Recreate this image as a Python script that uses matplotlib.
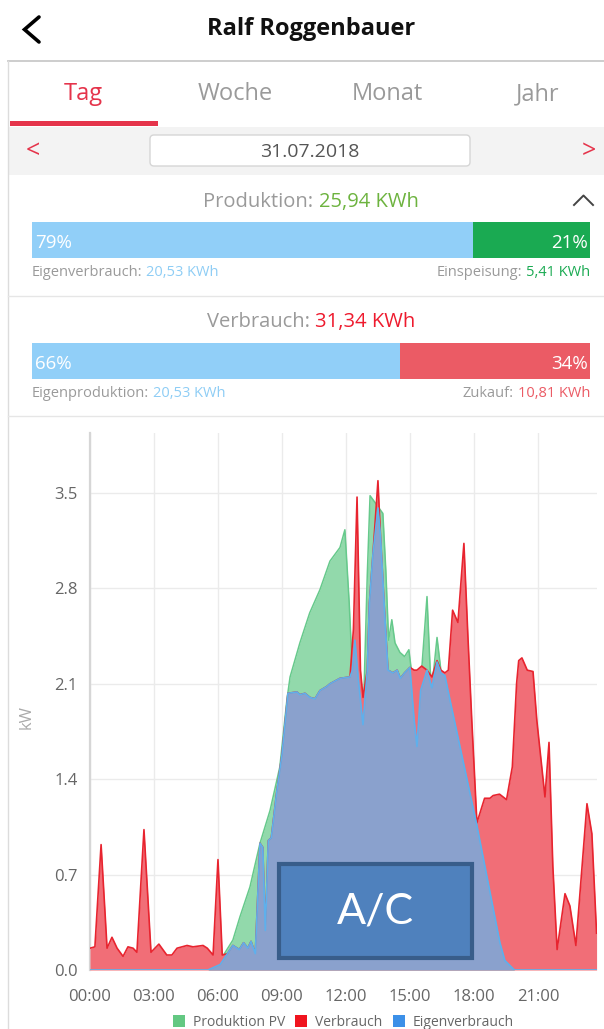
import matplotlib
matplotlib.use("Agg")
import matplotlib.pyplot as plt
from matplotlib.patches import Rectangle, FancyBboxPatch

plt.rcParams['font.family'] = ['Open Sans', 'DejaVu Sans']

# ---------------- data ----------------
user_name = "Ralf Roggenbauer"
tabs = ["Tag", "Woche", "Monat", "Jahr"]
date_label = "31.07.2018"

prod_label = "Produktion:"
prod_total = "25,94 KWh"
prod_split = [79, 21]
prod_left_label, prod_left_value = "Eigenverbrauch:", "20,53 KWh"
prod_right_label, prod_right_value = "Einspeisung:", "5,41 KWh"

verb_label = "Verbrauch:"
verb_total = "31,34 KWh"
verb_split = [66, 34]
verb_left_label, verb_left_value = "Eigenproduktion:", "20,53 KWh"
verb_right_label, verb_right_value = "Zukauf:", "10,81 KWh"

# Produktion PV (kW) over hours of day
pv_t = [0.0, 5.53, 6.1, 6.7, 7.03, 7.5, 7.97, 8.44, 8.9, 9.23, 9.38, 9.84, 10.3,
        10.78, 11.25, 11.72, 11.95, 12.15, 12.3, 12.42, 12.6, 12.8, 13.0, 13.13,
        13.27, 13.5, 13.73, 13.87, 14.0, 14.15, 14.3, 14.53, 14.75, 14.95, 15.05,
        15.2, 15.33, 15.55, 15.8, 15.95, 16.03, 16.27, 16.45, 16.64, 16.88, 18.14,
        19.22, 19.45, 19.9, 23.75]
pv_kw = [0.0, 0.0, 0.07, 0.22, 0.39, 0.61, 0.93, 1.17, 1.49, 1.98, 2.15, 2.40, 2.62,
         2.79, 3.0, 3.10, 3.23, 2.7, 2.2, 2.42, 2.1, 1.80, 2.9, 3.48,
         3.45, 3.40, 3.35, 2.93, 2.42, 2.57, 2.4, 2.33, 2.3, 2.35, 2.22,
         1.83, 1.64, 2.2, 2.74, 2.2, 2.07, 2.44, 2.2, 2.16, 1.98, 1.06,
         0.2, 0.07, 0.0, 0.0]

# Verbrauch (kW)
cons_t = [0.0, 0.23, 0.52, 0.8, 1.03, 1.27, 1.55, 1.78, 2.02, 2.2, 2.53, 2.86, 3.23,
          3.6, 3.84, 4.08, 4.55, 4.83, 5.3, 5.5, 5.77, 6.0, 6.2, 6.45, 6.7, 7.0,
          7.2, 7.4, 7.55, 7.75, 7.97, 8.1, 8.22, 8.36, 8.5, 8.75, 9.0, 9.28, 9.7,
          9.84, 10.08, 10.31, 10.55, 10.78, 11.1, 11.25, 11.72, 12.19, 12.35, 12.52,
          12.68, 12.8, 13.0, 13.1, 13.27, 13.5, 13.62, 13.83, 13.97, 14.2, 14.4,
          14.55, 14.75, 15.0, 15.2, 15.33, 15.55, 15.8, 16.03, 16.27, 16.45, 16.64,
          16.8, 17.0, 17.25, 17.53, 17.72, 17.9, 18.14, 18.5, 18.75, 18.9, 19.2,
          19.53, 19.8, 20.0, 20.1, 20.25, 20.5, 20.77, 20.95, 21.33, 21.52, 21.7,
          21.9, 22.27, 22.5, 22.78, 23.3, 23.53, 23.75]
cons_kw = [0.16, 0.17, 0.92, 0.16, 0.24, 0.16, 0.10, 0.17, 0.16, 0.13, 1.03, 0.13, 0.19,
           0.11, 0.11, 0.16, 0.18, 0.17, 0.18, 0.16, 0.11, 0.81, 0.11, 0.12, 0.18, 0.15,
           0.2, 0.16, 0.21, 0.12, 0.93, 0.9, 0.29, 0.95, 0.97, 1.3, 1.58, 2.03, 2.04,
           2.02, 2.03, 2.0, 1.99, 2.05, 2.08, 2.1, 2.14, 2.15, 2.5, 3.47,
           2.2, 2.0, 2.2, 2.69, 3.06, 3.59, 3.18, 2.57, 2.2, 2.18, 2.2,
           2.14, 2.18, 2.22, 2.2, 2.2, 2.23, 2.2, 2.15, 2.27, 2.2, 2.18,
           2.2, 2.64, 2.55, 3.13, 2.44, 1.83, 1.08, 1.26, 1.26, 1.28, 1.29,
           1.25, 1.49, 2.1, 2.27, 2.29, 2.2, 2.19, 1.83, 1.27, 1.67, 0.76,
           0.15, 0.56, 0.47, 0.18, 1.22, 1.0, 0.27]

# Eigenverbrauch (kW)
eig_t = [0.0, 5.53, 6.1, 6.7, 7.0, 7.2, 7.4, 7.55, 7.75, 7.97, 8.1, 8.22, 8.36, 8.5,
         8.75, 9.0, 9.28, 9.7, 9.84, 10.08, 10.31, 10.55, 10.78, 11.1, 11.25, 11.72,
         12.19, 12.3, 12.42, 12.6, 12.8, 13.0, 13.1, 13.27, 13.5, 13.62, 13.83, 13.97,
         14.2, 14.4, 14.55, 14.75, 15.0, 15.2, 15.33, 15.5, 15.8, 16.03, 16.27, 16.45,
         16.64, 16.88, 18.14, 19.22, 19.45, 19.9, 23.75]
eig_kw = [0.0, 0.0, 0.04, 0.18, 0.15, 0.2, 0.16, 0.21, 0.12, 0.93, 0.9, 0.29, 0.95, 0.97,
          1.3, 1.58, 2.03, 2.04, 2.02, 2.03, 2.0, 1.99, 2.05, 2.08, 2.1, 2.14,
          2.15, 2.2, 2.42, 2.1, 1.80, 2.2, 2.69, 3.06, 3.39, 3.18, 2.57, 2.2,
          2.18, 2.2, 2.14, 2.18, 2.22, 1.83, 1.64, 2.05, 2.2, 2.07, 2.26, 2.18,
          2.16, 1.98, 1.06, 0.2, 0.07, 0.0, 0.0]

y_ticks = [0.0, 0.7, 1.4, 2.1, 2.8, 3.5]
x_ticks = [0, 3, 6, 9, 12, 15, 18, 21]
x_tick_labels = ["00:00", "03:00", "06:00", "09:00", "12:00", "15:00", "18:00", "21:00"]
y_label = "kW"
legend_labels = ["Produktion PV", "Verbrauch", "Eigenverbrauch"]
annotation_text = "A/C"

# ---------------- style ----------------
W, H = 604, 1029
GRAY_TXT = '#9a9a9a'
C_BAR_BLUE = '#91cff8'
C_BAR_GREEN = '#1aaa52'
C_BAR_RED = '#eb5b65'
C_RED = '#e5344b'
green_fill, green_line = '#92d9ab', '#66c98b'
red_fill, red_line = '#f16e77', '#e8242f'
blue_fill, blue_line = '#8aa1cd', '#5eb0ec'
legend_colors = ['#63c882', '#f0141e', '#3c90e8']

fig = plt.figure(figsize=(W / 100, H / 100), dpi=100, facecolor='white')

bg = fig.add_axes([0, 0, 1, 1], zorder=0)
bg.set_xlim(0, W)
bg.set_ylim(H, 0)
bg.axis('off')

ov = fig.add_axes([0, 0, 1, 1], zorder=10)
ov.set_xlim(0, W)
ov.set_ylim(H, 0)
ov.axis('off')
ov.patch.set_alpha(0)

renderer = fig.canvas.get_renderer()


def seq_text(ax, x, y, pieces, size, ha='left', weight='normal', gap=True):
    ts, ws = [], []
    for s, c in pieces:
        t = ax.text(0, y, s, color=c, fontsize=size, ha='left', va='baseline',
                    fontweight=weight)
        ws.append(t.get_window_extent(renderer).width)
        ts.append(t)
    g = 0.26 * size * 100 / 72 if gap else 0
    total = sum(ws) + g * (len(ws) - 1)
    if ha == 'center':
        x0 = x - total / 2
    elif ha == 'right':
        x0 = x - total
    else:
        x0 = x
    for t, w in zip(ts, ws):
        t.set_x(x0)
        x0 += w + g


# ---- header ----
bg.plot([39, 24.5, 39], [17, 29.5, 42], color='black', lw=2.6,
        solid_capstyle='round', solid_joinstyle='miter')
bg.text(311, 35, user_name, ha='center', va='baseline', fontsize=17,
        fontweight='bold', color='#111111')
bg.plot([8, W], [61, 61], color='#c9c9c9', lw=1.3)
bg.plot([8, 8], [61, H], color='#dcdcdc', lw=1.0)

# ---- tabs ----
tab_x = [83, 235, 387, 538]
for i, (tx, lab) in enumerate(zip(tab_x, tabs)):
    bg.text(tx, 100, lab, ha='center', va='baseline', fontsize=17,
            color=C_RED if i == 0 else GRAY_TXT)
bg.add_patch(Rectangle((10, 121), 148, 5, facecolor=C_RED, edgecolor='none'))

# ---- date row ----
bg.add_patch(Rectangle((9, 127), W - 9, 48, facecolor='#f3f3f3', edgecolor='none'))
bg.add_patch(FancyBboxPatch((150, 135), 320, 31, boxstyle='round,pad=0,rounding_size=4',
                            facecolor='white', edgecolor='#d6d6d6', lw=1.0))
bg.text(310, 157, date_label, ha='center', va='baseline', fontsize=14, color='#555555')
bg.text(33, 152, "<", ha='center', va='center', fontsize=18, color=C_RED)
bg.text(589, 152, ">", ha='center', va='center', fontsize=18, color=C_RED)

# ---- Produktion ----
seq_text(bg, 311, 207, [(prod_label, GRAY_TXT), (prod_total, '#6db33f')], 14.5, ha='center')
bg.plot([574, 583.5, 593], [205, 195.5, 205], color='#444444', lw=1.4)

b1 = fig.add_axes([32 / W, 1 - 258 / H, 558 / W, 36 / H], zorder=1)
b1.barh(0, prod_split[0], left=0, height=1, color=C_BAR_BLUE)
b1.barh(0, prod_split[1], left=prod_split[0], height=1, color=C_BAR_GREEN)
b1.set_xlim(0, 100)
b1.set_ylim(-0.5, 0.5)
b1.axis('off')
ov.text(35, 248, f"{prod_split[0]}%", ha='left', va='baseline', fontsize=13.5, color='white')
ov.text(588, 248, f"{prod_split[1]}%", ha='right', va='baseline', fontsize=13.5, color='white')
seq_text(bg, 32, 276, [(prod_left_label, GRAY_TXT), (prod_left_value, '#8ecdf5')], 10.5)
seq_text(bg, 590, 276, [(prod_right_label, GRAY_TXT), (prod_right_value, C_BAR_GREEN)], 10.5, ha='right')
bg.plot([8, W], [296, 296], color='#e6e6e6', lw=1.0)

# ---- Verbrauch ----
seq_text(bg, 311, 327, [(verb_label, GRAY_TXT), (verb_total, '#ee1b2e')], 14.5, ha='center')
b2 = fig.add_axes([32 / W, 1 - 379 / H, 558 / W, 36 / H], zorder=1)
b2.barh(0, verb_split[0], left=0, height=1, color=C_BAR_BLUE)
b2.barh(0, verb_split[1], left=verb_split[0], height=1, color=C_BAR_RED)
b2.set_xlim(0, 100)
b2.set_ylim(-0.5, 0.5)
b2.axis('off')
ov.text(35, 369, f"{verb_split[0]}%", ha='left', va='baseline', fontsize=13.5, color='white')
ov.text(588, 369, f"{verb_split[1]}%", ha='right', va='baseline', fontsize=13.5, color='white')
seq_text(bg, 32, 397, [(verb_left_label, GRAY_TXT), (verb_left_value, '#8ecdf5')], 10.5)
seq_text(bg, 590, 397, [(verb_right_label, GRAY_TXT), (verb_right_value, C_BAR_RED)], 10.5, ha='right')
bg.plot([8, W], [416, 416], color='#e6e6e6', lw=1.0)

# ---- chart ----
ax_l, ax_r, ax_b, ax_t = 90, 597, 970, 433
ax = fig.add_axes([ax_l / W, 1 - ax_b / H, (ax_r - ax_l) / W, (ax_b - ax_t) / H], zorder=2)
ax.set_facecolor('none')
ax.fill_between(pv_t, pv_kw, 0, color=green_fill, lw=0, zorder=2)
ax.plot(pv_t, pv_kw, color=green_line, lw=1.1, zorder=2.1)
ax.fill_between(cons_t, cons_kw, 0, color=red_fill, lw=0, zorder=3)
ax.plot(cons_t, cons_kw, color=red_line, lw=1.2, zorder=3.1)
ax.fill_between(eig_t, eig_kw, 0, color=blue_fill, lw=0, zorder=4)
ax.plot(eig_t, eig_kw, color=blue_line, lw=1.2, zorder=4.1)

ax.set_xlim(0, 23.77)
ax.set_ylim(0, 3.94)
ax.set_xticks(x_ticks)
ax.set_xticklabels(x_tick_labels)
ax.set_yticks(y_ticks)
ax.set_yticklabels([f"{v:.1f}" for v in y_ticks])
ax.tick_params(axis='both', length=0, labelsize=12, labelcolor='#666666')
ax.tick_params(axis='x', pad=13.5)
ax.tick_params(axis='y', pad=9)
ax.grid(True, color='#ebebeb', lw=1.0)
ax.set_axisbelow(True)
for s in ['top', 'right', 'bottom']:
    ax.spines[s].set_visible(False)
ax.spines['left'].set_color('#d6d6d6')
ax.spines['left'].set_linewidth(1.6)
bg.text(27, 717, y_label, rotation=90, ha='center', va='center', fontsize=12, color='#aaaaaa')

# ---- legend ----
lfs = 10
sq, gap_sq, gap_item = 12, 8, 10
widths = []
tmp = []
for lab in legend_labels:
    t = bg.text(0, 1026, lab, fontsize=lfs, color='#666666', ha='left', va='baseline')
    widths.append(t.get_window_extent(renderer).width)
    tmp.append(t)
total = sum(sq + gap_sq + w for w in widths) + gap_item * (len(widths) - 1)
x0 = (ax_l + ax_r) / 2 - total / 2
for t, w, c in zip(tmp, widths, legend_colors):
    bg.add_patch(Rectangle((x0, 1015), sq, sq, facecolor=c, edgecolor='none'))
    t.set_x(x0 + sq + gap_sq)
    x0 += sq + gap_sq + w + gap_item

# ---- A/C annotation box ----
ov.add_patch(Rectangle((279, 864), 193, 94, facecolor='#4f81bd', edgecolor='#385d8a', lw=3))
ov.text(375.5, 911, annotation_text, ha='center', va='center', fontsize=31,
        color='white', family=['Lato', 'DejaVu Sans'])

fig.savefig('out.png', dpi=100, facecolor='white')
